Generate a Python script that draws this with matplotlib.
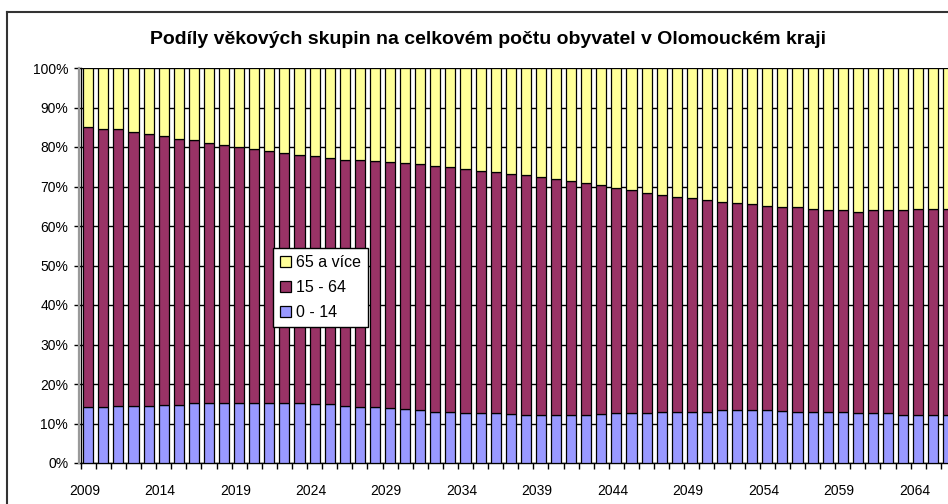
import matplotlib
matplotlib.use('Agg')
import matplotlib.pyplot as plt
import numpy as np
from matplotlib.lines import Line2D
from matplotlib.patches import Patch

years = list(range(2009, 2067))
age_0_14 = [14.1, 14.1, 14.4, 14.4, 14.4, 14.8, 14.8, 15.1, 15.2, 15.2,
            15.2, 15.2, 15.2, 15.2, 15.2, 15.0, 15.0, 14.5, 14.2, 14.1,
            13.8, 13.7, 13.3, 13.0, 13.0, 12.7, 12.6, 12.6, 12.3, 12.2,
            12.2, 12.2, 12.2, 12.2, 12.5, 12.6, 12.6, 12.6, 12.9, 13.0,
            13.0, 13.0, 13.3, 13.3, 13.3, 13.3, 13.2, 13.0, 13.0, 13.0,
            13.0, 12.6, 12.6, 12.6, 12.2, 12.2, 12.2, 12.2]
age_15_64 = [70.9, 70.5, 70.1, 69.4, 68.8, 68.0, 67.3, 66.6, 65.8, 65.4,
             64.7, 64.2, 63.9, 63.2, 62.7, 62.6, 62.2, 62.3, 62.6, 62.4,
             62.5, 62.2, 62.3, 62.2, 61.9, 61.8, 61.4, 61.0, 60.9, 60.6,
             60.2, 59.7, 59.2, 58.7, 57.8, 57.1, 56.4, 55.8, 54.9, 54.3,
             54.0, 53.6, 52.9, 52.5, 52.2, 51.8, 51.5, 51.7, 51.3, 51.0,
             51.0, 51.0, 51.4, 51.4, 51.8, 52.1, 52.1, 52.1]
age_65_plus = [15.0, 15.4, 15.5, 16.2, 16.8, 17.2, 17.9, 18.3, 19.0, 19.4,
               20.1, 20.6, 20.9, 21.6, 22.1, 22.4, 22.8, 23.2, 23.2, 23.5,
               23.7, 24.1, 24.4, 24.8, 25.1, 25.5, 26.0, 26.4, 26.8, 27.2,
               27.6, 28.1, 28.6, 29.1, 29.7, 30.3, 31.0, 31.6, 32.2, 32.7,
               33.0, 33.4, 33.8, 34.2, 34.5, 34.9, 35.3, 35.3, 35.7, 36.0,
               36.0, 36.4, 36.0, 36.0, 36.0, 35.7, 35.7, 35.7]
series_labels = ['0 - 14', '15 - 64', '65 a více']
series_colors = ['#9999FF', '#993366', '#FFFF99']
label_years = [str(y) for y in range(2009, 2067, 5)]
y_ticks = list(range(0, 101, 10))
title = 'Podíly věkových skupin na celkovém počtu obyvatel v Olomouckém kraji'

plt.rcParams['font.family'] = ['Liberation Sans', 'DejaVu Sans']

W, H = 948, 504
fig = plt.figure(figsize=(W / 100, H / 100), dpi=100)
fig.patch.set_facecolor('white')

n = len(years)
left_px, top_px, bottom_px = 80.7, 68.0, 463.0
cat_w = 15.09
right_px = left_px + n * cat_w
ax = fig.add_axes([left_px / W, 1 - bottom_px / H,
                   (right_px - left_px) / W, (bottom_px - top_px) / H])

x = np.arange(n)
data = np.array([age_0_14, age_15_64, age_65_plus], dtype=float)
shares = data / data.sum(axis=0) * 100
bottom = np.zeros(n)
handles = []
for vals, col, lab in zip(shares, series_colors, series_labels):
    ax.bar(x, vals, bottom=bottom, width=0.667, color=col,
           edgecolor='black', linewidth=0.9, zorder=3)
    bottom += vals
    handles.append(Patch(facecolor=col, edgecolor='black', linewidth=0.9, label=lab))

ax.set_xlim(-0.5, n - 0.5)
ax.set_ylim(0, 100)
ax.set_yticks(y_ticks)
ax.set_yticklabels([f'{v}%' for v in y_ticks], fontsize=10)
ax.yaxis.grid(True, color='black', linewidth=1.0, zorder=0)
ax.set_axisbelow(True)

ax.set_xticks(np.arange(-0.5, n, 1.0))
ax.set_xticklabels([])
ax.set_xticks([years.index(int(y)) - 0.25 for y in label_years], minor=True)
ax.set_xticklabels(label_years, minor=True, fontsize=10)
ax.tick_params(axis='x', which='major', direction='out', length=4, width=1, color='black')
ax.tick_params(axis='x', which='minor', length=0, pad=15)
ax.tick_params(axis='y', direction='out', length=5, width=1, color='black', pad=4)

for s in ['top', 'right']:
    ax.spines[s].set_visible(False)
for s in ['left', 'bottom']:
    ax.spines[s].set_color('black')
    ax.spines[s].set_linewidth(1.0)

# gray plot-area edge to the left of the axis line
fig.add_artist(Line2D([(left_px - 1.8) / W] * 2, [1 - top_px / H, 1 - bottom_px / H],
                      transform=fig.transFigure, color='#9a9a9a', linewidth=1.6))

# outer chart border (clipped at right/bottom)
fig.add_artist(Line2D([7 / W, 1.0], [1 - 12 / H, 1 - 12 / H],
                      transform=fig.transFigure, color='#333333', linewidth=1.5))
fig.add_artist(Line2D([7 / W, 7 / W], [1 - 12 / H, 0.0],
                      transform=fig.transFigure, color='#333333', linewidth=1.5))

fig.text(488 / W, 1 - 39 / H, title, ha='center', va='center',
         fontsize=14, fontweight='bold')

leg = fig.legend(handles=handles[::-1], loc='upper left',
                 bbox_to_anchor=(273 / W, 1 - 248 / H),
                 fontsize=11.5, frameon=True, fancybox=False, shadow=False,
                 handlelength=0.65, handleheight=0.65, handletextpad=0.35,
                 labelspacing=0.62, borderpad=0.45, borderaxespad=0)
leg.get_frame().set_edgecolor('black')
leg.get_frame().set_linewidth(1.0)
leg.get_frame().set_facecolor('white')
leg.get_frame().set_alpha(1)

fig.savefig('out.png', dpi=100)
